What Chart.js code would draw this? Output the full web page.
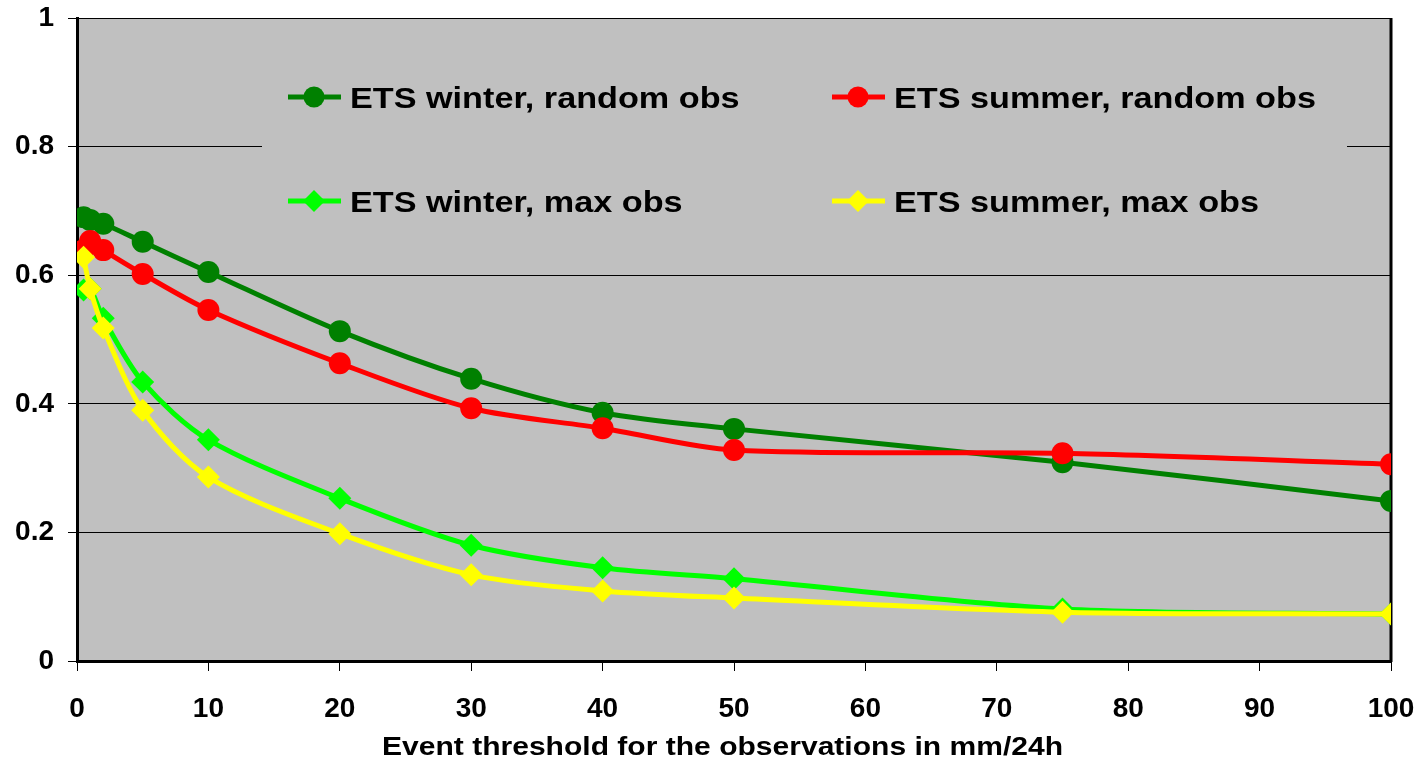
<!DOCTYPE html>
<html lang="en">
<head>
    <meta charset="UTF-8">
    <title>ETS vs event threshold</title>
    <script src="https://cdn.jsdelivr.net/npm/chart.js"></script>
    <style>
        html, body { margin: 0; padding: 0; background: #fff; }
        #wrap { width: 1422px; height: 758px; }
    </style>
</head>
<body>
    <div id="wrap"><canvas id="etsChart" width="1422" height="758"></canvas></div>

    <script>
        // thresholds (mm/24h)
        const thresholds = [0.5, 1, 2, 5, 10, 20, 30, 40, 50, 75, 100];
        const xTicks = [0, 10, 20, 30, 40, 50, 60, 70, 80, 90, 100];
        const yTicks = [0, 0.2, 0.4, 0.6, 0.8, 1];

        const winterRandom = [0.690, 0.686, 0.680, 0.652, 0.605, 0.513, 0.439, 0.386, 0.361, 0.309, 0.249];
        const summerRandom = [0.639, 0.653, 0.639, 0.602, 0.546, 0.463, 0.393, 0.362, 0.328, 0.323, 0.306];
        const winterMax    = [0.577, 0.579, 0.533, 0.434, 0.344, 0.253, 0.180, 0.145, 0.128, 0.081, 0.073];
        const summerMax    = [0.628, 0.579, 0.518, 0.390, 0.286, 0.198, 0.134, 0.109, 0.098, 0.076, 0.073];

        const seriesNames = ['ETS winter, random obs', 'ETS summer, random obs', 'ETS winter, max obs', 'ETS summer, max obs'];
        const seriesColors = ['#008000', '#FF0000', '#00FF00', '#FFFF00'];
        const xTitle = 'Event threshold for the observations in mm/24h';

        const FONT = '"Liberation Sans", Arial, sans-serif';

        function toPoints(values) {
            return thresholds.map((x, i) => ({ x: x, y: values[i] }));
        }

        function makeSet(idx, values, style, radius) {
            return {
                label: seriesNames[idx],
                data: toPoints(values),
                borderColor: seriesColors[idx],
                backgroundColor: seriesColors[idx],
                pointBackgroundColor: seriesColors[idx],
                pointBorderWidth: 0,
                pointStyle: style,
                pointRadius: radius,
                borderWidth: 5,
                tension: 0.3,
                order: 4 - idx
            };
        }

        // text in the original is a bit wider than plain Arial
        function wideText(c, text, x, y, stretch) {
            c.save();
            c.translate(x, y);
            c.scale(stretch, 1);
            c.fillText(text, 0, 0);
            c.restore();
        }

        // gray plot area, frame, legend box and axis title
        const plotDecor = {
            id: 'plotDecor',
            beforeDraw(chart) {
                const a = chart.chartArea, c = chart.ctx;
                c.save();
                c.fillStyle = '#C0C0C0';
                c.fillRect(a.left, a.top, a.right - a.left, a.bottom - a.top);
                c.restore();
            },
            beforeDatasetsDraw(chart) {
                const a = chart.chartArea, c = chart.ctx;
                c.save();
                // legend box hides the gridline
                c.fillStyle = '#C0C0C0';
                c.fillRect(262, 50, 1347 - 262, 190);

                // frame
                c.strokeStyle = '#000';
                c.lineWidth = 1;
                c.beginPath();
                c.moveTo(a.left, a.top + 0.5);
                c.lineTo(a.right, a.top + 0.5);
                c.stroke();
                c.lineWidth = 3;
                c.beginPath();
                c.moveTo(a.right, a.top);
                c.lineTo(a.right, a.bottom + 1);
                c.stroke();

                // legend entries
                const cols = [288, 832];
                const rows = [97, 201];
                c.font = 'bold 30px ' + FONT;
                c.textBaseline = 'alphabetic';
                c.textAlign = 'left';
                chart.data.datasets.forEach((ds, i) => {
                    const x0 = cols[i % 2], y0 = rows[Math.floor(i / 2)];
                    c.strokeStyle = ds.borderColor;
                    c.lineWidth = 5;
                    c.beginPath();
                    c.moveTo(x0, y0);
                    c.lineTo(x0 + 53, y0);
                    c.stroke();
                    c.fillStyle = ds.borderColor;
                    const mx = x0 + 26;
                    if (ds.pointStyle === 'circle') {
                        c.beginPath();
                        c.arc(mx, y0, 10.5, 0, Math.PI * 2);
                        c.fill();
                    } else {
                        c.beginPath();
                        c.moveTo(mx, y0 - 11);
                        c.lineTo(mx + 11, y0);
                        c.lineTo(mx, y0 + 11);
                        c.lineTo(mx - 11, y0);
                        c.closePath();
                        c.fill();
                    }
                    c.fillStyle = '#000';
                    wideText(c, ds.label, x0 + 62, y0 + 11, 1.14);
                });

                // x axis title
                c.font = 'bold 26px ' + FONT;
                const w = c.measureText(xTitle).width;
                wideText(c, xTitle, 382, 755, 681 / w);
                c.restore();
            }
        };

        new Chart(document.getElementById('etsChart'), {
            type: 'line',
            data: {
                datasets: [
                    makeSet(0, winterRandom, 'circle', 11),
                    makeSet(1, summerRandom, 'circle', 11),
                    makeSet(2, winterMax, 'rectRot', 11.5),
                    makeSet(3, summerMax, 'rectRot', 11.5)
                ]
            },
            options: {
                responsive: false,
                animation: false,
                events: [],
                layout: { padding: { top: 18, right: 31, left: 0, bottom: 0 } },
                plugins: {
                    legend: { display: false },
                    tooltip: { enabled: false }
                },
                scales: {
                    x: {
                        type: 'linear',
                        min: 0,
                        max: 100,
                        afterBuildTicks(scale) { scale.ticks = xTicks.map(v => ({ value: v })); },
                        afterFit(scale) {
                            scale.height = 97;
                            scale.paddingLeft = 0;
                            scale.paddingRight = 0;
                        },
                        border: { display: true, color: '#000', width: 3 },
                        grid: { drawOnChartArea: false, drawTicks: true, tickLength: 10, color: '#000', lineWidth: 1 },
                        ticks: {
                            color: '#000',
                            padding: 21,
                            maxRotation: 0,
                            font: { family: FONT, size: 28, weight: 'bold' }
                        }
                    },
                    y: {
                        min: 0,
                        max: 1,
                        afterBuildTicks(scale) { scale.ticks = yTicks.map(v => ({ value: v })); },
                        afterFit(scale) {
                            scale.width = 77;
                            scale.paddingTop = 0;
                            scale.paddingBottom = 0;
                        },
                        border: { display: true, color: '#000', width: 3 },
                        grid: { drawOnChartArea: true, drawTicks: true, tickLength: 9, color: '#000', lineWidth: 1 },
                        ticks: {
                            color: '#000',
                            padding: 14,
                            callback: v => String(v),
                            font: { family: FONT, size: 28, weight: 'bold' }
                        }
                    }
                }
            },
            plugins: [plotDecor]
        });
    </script>
</body>
</html>
